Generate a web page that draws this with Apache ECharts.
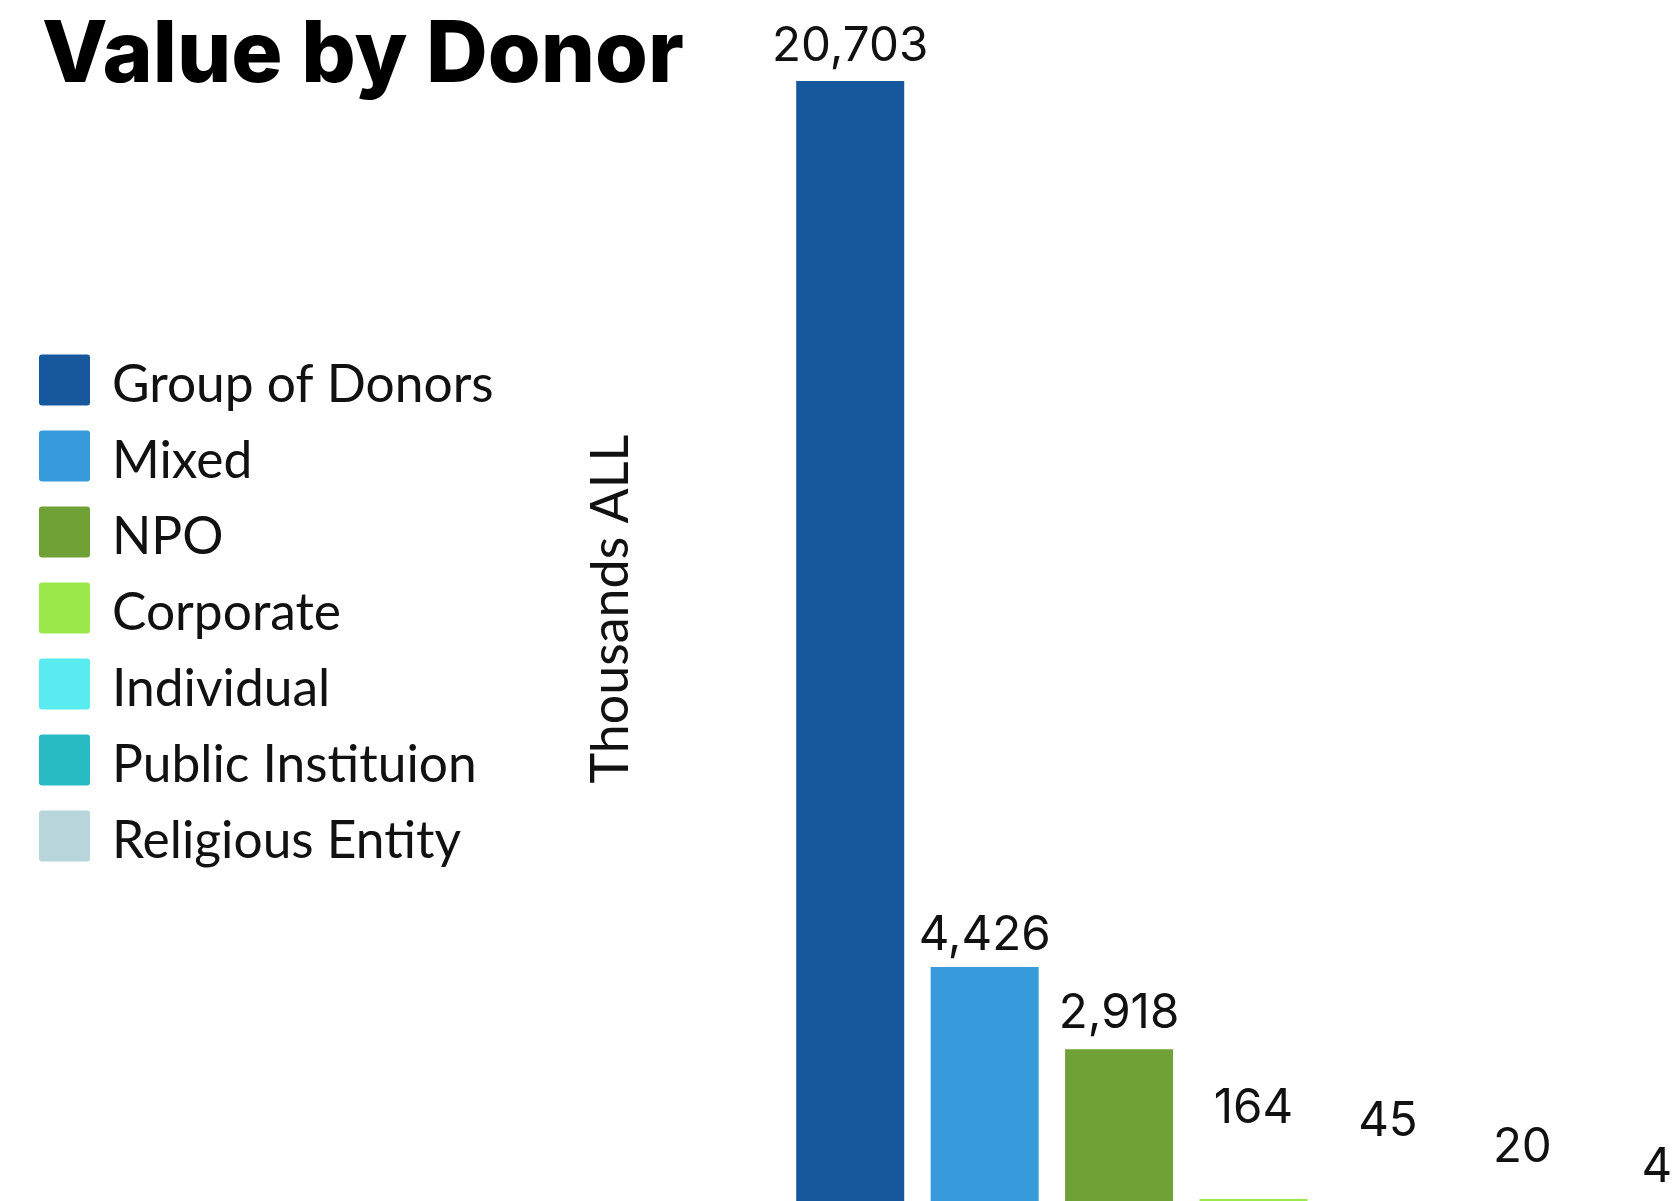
<!DOCTYPE html>
<html>
<head>
<meta charset="utf-8">
<script src="https://cdn.jsdelivr.net/npm/echarts@6/dist/echarts.min.js"></script>
<style>html,body{margin:0;padding:0;background:#fff}#c{width:1676px;height:1201px}</style>
</head>
<body>
<div id="c"></div>
<script>
const categories = ['Group of Donors', 'Mixed', 'NPO', 'Corporate', 'Individual', 'Public Instituion', 'Religious Entity'];
const values = [20703, 4426, 2918, 164, 45, 20, 4];
const colors = ['#16579d', '#379bdb', '#6fa136', '#9be84a', '#5aebf1', '#28bbc3', '#b7d5db'];
const labelGaps = [10, 7, 11, 66, 60, 35, 16];

const chart = echarts.init(document.getElementById('c'), null, {renderer: 'canvas'});
const series = categories.map((name, i) => ({
  name: name,
  type: 'bar',
  stack: 'all',
  barWidth: 108,
  itemStyle: {color: colors[i]},
  label: {
    show: true,
    position: 'top',
    distance: labelGaps[i],
    fontFamily: 'Inter',
    fontSize: 47.5,
    fontWeight: 400,
    color: '#111',
    formatter: p => p.value.toLocaleString('en-US')
  },
  data: categories.map((c, j) => j === i ? values[i] : '-')
}));

const squareIcon = 'path://M3,0 H48 A3,3 0 0 1 51,3 V48 A3,3 0 0 1 48,51 H3 A3,3 0 0 1 0,48 V3 A3,3 0 0 1 3,0 Z';

chart.setOption({
  animation: false,
  color: colors,
  title: {
    text: 'Value by Donor',
    left: 37,
    top: 8,
    textStyle: {fontFamily: 'Inter', fontWeight: 800, fontSize: 85.5, color: '#000'}
  },
  legend: {
    orient: 'vertical',
    left: 34,
    top: 344,
    itemWidth: 51,
    itemHeight: 51,
    itemGap: 14,
    icon: squareIcon,
    data: categories,
    formatter: name => '{t|' + name + '}',
    textStyle: {
      fontFamily: 'Lato', fontSize: 51.5, color: '#111', padding: [0, 0, 0, 17],
      rich: {t: {fontFamily: 'Lato', fontSize: 51.5, color: '#111', lineHeight: 41, padding: [10, 0, 0, 0]}}
    }
  },
  grid: {left: 783, right: -48, top: 10.4, bottom: -7, containLabel: false, outerBoundsMode: 'none'},
  xAxis: {
    type: 'category',
    data: categories,
    axisLine: {show: false},
    axisTick: {show: false},
    axisLabel: {show: false}
  },
  yAxis: {
    type: 'value',
    min: 0,
    max: 22000,
    splitLine: {show: false},
    axisLine: {show: false},
    axisTick: {show: false},
    axisLabel: {show: false},
    name: 'Thousands ALL',
    nameLocation: 'middle',
    nameRotate: 90,
    nameGap: 146,
    nameTextStyle: {fontFamily: 'Lato', fontSize: 52, color: '#111'}
  },
  series: series
});
</script>
</body>
</html>
